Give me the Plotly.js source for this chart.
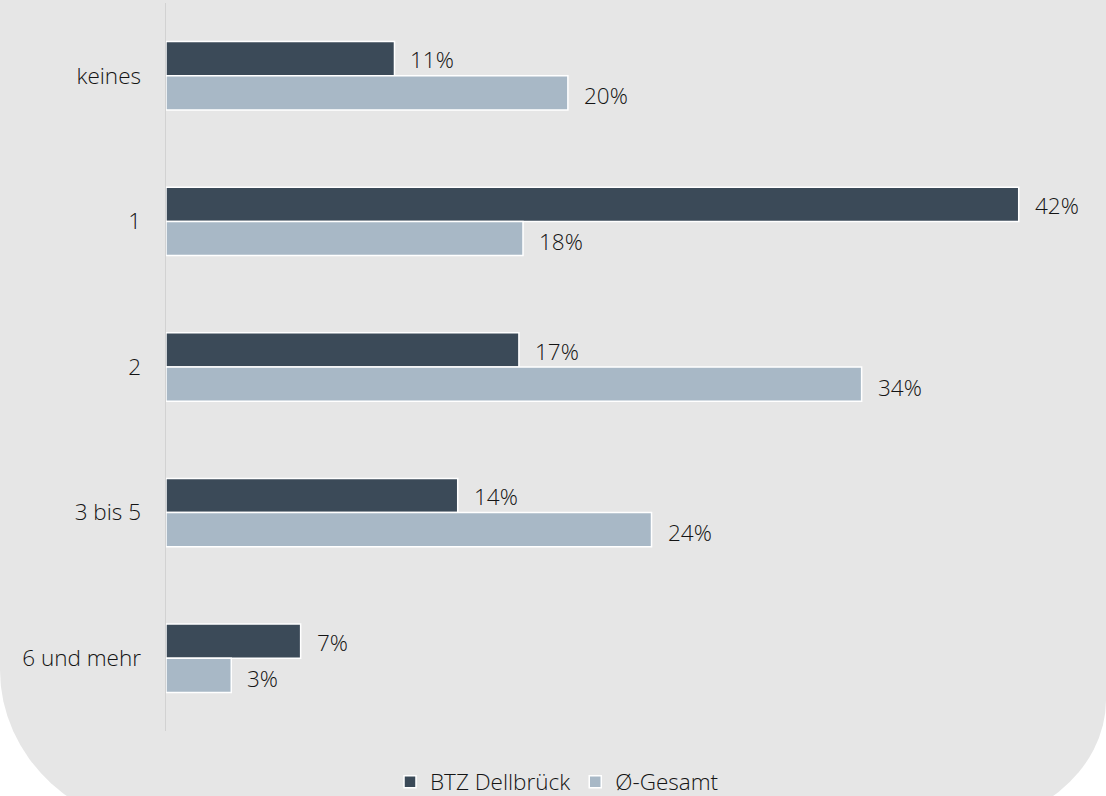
<!DOCTYPE html>
<html>
<head>
<meta charset="utf-8">
<script src="https://cdn.plot.ly/plotly-3.0.1.min.js"></script>
<style>
  html, body { margin: 0; padding: 0; background: #ffffff; overflow: hidden; }
  #bg { position: absolute; left: 0; top: 0; width: 1106px; height: 830px; background: #e6e6e6;
        border-bottom-left-radius: 174px 160px; border-bottom-right-radius: 162px 130px; }
  #chart { position: absolute; left: 0; top: 0; width: 1106px; height: 796px; }
</style>
</head>
<body>
<div id="bg"></div>
<div id="chart"></div>
<script>
const categories = ["keines", "1", "2", "3 bis 5", "6 und mehr"];
const seriesNames = ["BTZ Dellbrück", "Ø-Gesamt"];
const btzValues = [11.2, 41.8, 17.3, 14.3, 6.6];
const gesamtValues = [19.7, 17.5, 34.1, 23.8, 3.2];
const seriesColors = ["#3b4a58", "#a8b8c6"];

const FONT = "Open Sans, Noto Sans, sans-serif";
const FSIZE = 22.5;
const FCOLOR = "#141414";
const seriesValues = [btzValues, gesamtValues];

const traces = seriesValues.map((vals, i) => ({
  type: "bar",
  orientation: "h",
  name: seriesNames[i],
  y: categories,
  x: vals,
  marker: { color: seriesColors[i], line: { color: "#ffffff", width: 1.5 } },
  hoverinfo: "none"
}));

const annotations = [];
seriesValues.forEach((vals, i) => {
  vals.forEach((v, j) => {
    annotations.push({
      x: v, y: categories[j], xref: "x", yref: "y",
      text: Math.round(v) + "%",
      showarrow: false, xanchor: "left", yanchor: "middle",
      xshift: 14, yshift: i === 0 ? 16 : -20,
      font: { family: FONT, size: FSIZE, color: FCOLOR, weight: 300 }
    });
  });
});

const layout = {
  width: 1106, height: 796,
  paper_bgcolor: "rgba(0,0,0,0)", plot_bgcolor: "rgba(0,0,0,0)",
  margin: { l: 166, r: 60, t: 3, b: 65 },
  barmode: "group", bargap: 0.53, bargroupgap: 0,
  font: { family: FONT, size: FSIZE, color: FCOLOR, weight: 300 },
  xaxis: { type: "linear", range: [0, 880 / 20.4], visible: false, fixedrange: true },
  yaxis: {
    type: "category", categoryorder: "array", categoryarray: categories,
    autorange: "reversed", showline: true, linecolor: "#d2d2d2", linewidth: 1.5,
    showgrid: false, zeroline: false, ticks: "outside", ticklen: 19, tickcolor: "rgba(0,0,0,0)",
    tickfont: { family: FONT, size: FSIZE, color: FCOLOR, weight: 300 }, automargin: false
  },
  showlegend: true,
  legend: {
    orientation: "h", x: 557 / 1106, xanchor: "center", xref: "container",
    y: 14 / 796, yanchor: "middle", yref: "container", traceorder: "normal",
    font: { family: FONT, size: FSIZE, color: FCOLOR, weight: 300 },
    bgcolor: "rgba(0,0,0,0)", itemclick: false
  },
  annotations: annotations
};

Plotly.newPlot("chart", traces, layout, { displayModeBar: false, staticPlot: true });
</script>
</body>
</html>
